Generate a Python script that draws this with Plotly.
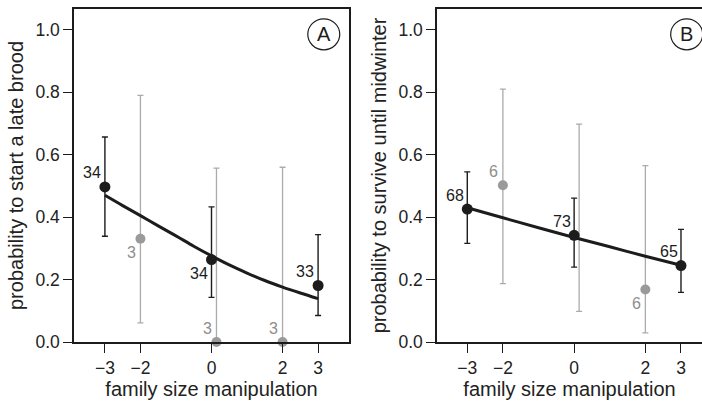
import plotly.graph_objects as go

# ---------------- data ----------------
x_ticks = [-3, -2, 0, 2, 3]
x_ticktext = ["\u22123", "\u22122", "0", "2", "3"]
y_ticks = [0, 0.2, 0.4, 0.6, 0.8, 1.0]

# Panel A: probability to start a late brood
a_black_x = [-3, 0, 3]
a_black_y = [0.497, 0.264, 0.181]
a_black_hi = [0.657, 0.433, 0.344]
a_black_lo = [0.339, 0.143, 0.085]
a_black_n = ["34", "34", "33"]

a_gray_x = [-2, 0, 2]
a_gray_y = [0.331, 0.0, 0.0]
a_gray_hi = [0.790, 0.557, 0.560]
a_gray_lo = [0.061, 0.0, 0.0]
a_gray_n = ["3", "3", "3"]

a_fit_x = [-3, -2.5, -2, -1.5, -1, -0.5, 0, 0.5, 1, 1.5, 2, 2.5, 3]
a_fit_y = [0.470, 0.437, 0.405, 0.372, 0.340, 0.307, 0.276, 0.247, 0.221, 0.197, 0.176, 0.157, 0.139]

# Panel B: probability to survive until midwinter
b_black_x = [-3, 0, 3]
b_black_y = [0.426, 0.342, 0.245]
b_black_hi = [0.545, 0.461, 0.361]
b_black_lo = [0.316, 0.240, 0.159]
b_black_n = ["68", "73", "65"]

b_gray_x = [-2, 0, 2]
b_gray_y = [0.502, None, 0.168]
b_gray_hi = [0.810, 0.698, 0.565]
b_gray_lo = [0.187, 0.098, 0.029]
b_gray_mid = [0.502, 0.360, 0.168]
b_gray_n = ["6", "", "6"]

b_fit_x = [-3, -2, -1, 0, 1, 2, 3]
b_fit_y = [0.430, 0.398, 0.366, 0.335, 0.305, 0.275, 0.246]

# ---------------- style ----------------
FONT = "Liberation Sans, Arial, Helvetica, sans-serif"
BLACK = "#1c1c1c"
GRAY_PT = "#9a9a9a"
GRAY_BAR = "#ababab"
GRAY_TXT = "#8e8e8e"
DODGE = 0.14  # horizontal offset of gray group at x = 0

def dodge(xs):
    return [x + DODGE if x == 0 else x for x in xs]

fig = go.Figure()

def add_panel(xa, ya, bx, by, bhi, blo, gx, gy, ghi, glo, gmid, fx, fy):
    gxd = dodge(gx)
    fig.add_trace(go.Scatter(
        x=gxd, y=gmid, mode="markers", marker=dict(size=0.1, color="rgba(0,0,0,0)"),
        error_y=dict(type="data", symmetric=False,
                     array=[h - m for h, m in zip(ghi, gmid)],
                     arrayminus=[m - l for m, l in zip(gmid, glo)],
                     color=GRAY_BAR, thickness=1.3, width=3),
        xaxis=xa, yaxis=ya, showlegend=False, hoverinfo="skip", cliponaxis=False))
    fig.add_trace(go.Scatter(
        x=gxd, y=gy, mode="markers", marker=dict(size=10, color=GRAY_PT),
        xaxis=xa, yaxis=ya, showlegend=False, cliponaxis=False))
    fig.add_trace(go.Scatter(
        x=bx, y=by, mode="markers", marker=dict(size=0.1, color="rgba(0,0,0,0)"),
        error_y=dict(type="data", symmetric=False,
                     array=[h - m for h, m in zip(bhi, by)],
                     arrayminus=[m - l for m, l in zip(by, blo)],
                     color=BLACK, thickness=1.4, width=3),
        xaxis=xa, yaxis=ya, showlegend=False, hoverinfo="skip", cliponaxis=False))
    fig.add_trace(go.Scatter(
        x=fx, y=fy, mode="lines", line=dict(color=BLACK, width=3, shape="spline"),
        xaxis=xa, yaxis=ya, showlegend=False))
    fig.add_trace(go.Scatter(
        x=bx, y=by, mode="markers", marker=dict(size=11, color=BLACK),
        xaxis=xa, yaxis=ya, showlegend=False, cliponaxis=False))

add_panel("x", "y", a_black_x, a_black_y, a_black_hi, a_black_lo,
          a_gray_x, a_gray_y, a_gray_hi, a_gray_lo, a_gray_y, a_fit_x, a_fit_y)
add_panel("x2", "y2", b_black_x, b_black_y, b_black_hi, b_black_lo,
          b_gray_x, b_gray_y, b_gray_hi, b_gray_lo, b_gray_mid, b_fit_x, b_fit_y)

def label(xref, yref, x, y, txt, color, above, dx):
    if not txt or y is None:
        return
    fig.add_annotation(x=x, y=y, xref=xref, yref=yref, text=txt, showarrow=False,
                       xshift=dx, yshift=14 if above else -14,
                       font=dict(family=FONT, size=16, color=color))

for x, y, t, up in zip(a_black_x, a_black_y, a_black_n, [True, False, True]):
    label("x", "y", x, y, t, BLACK, up, -13)
for x, y, t, up in zip(dodge(a_gray_x), a_gray_y, a_gray_n, [False, True, True]):
    label("x", "y", x, y, t, GRAY_TXT, up, -9)
for x, y, t, up in zip(b_black_x, b_black_y, b_black_n, [True, True, True]):
    label("x2", "y2", x, y, t, BLACK, up, -12)
for x, y, t, up in zip(dodge(b_gray_x), b_gray_y, b_gray_n, [True, True, False]):
    label("x2", "y2", x, y, t, GRAY_TXT, up, -9)

for xr, yr, letter in [("x", "y", "A"), ("x2", "y2", "B")]:
    fig.add_shape(type="circle", xref=xr, yref=yr, xsizemode="pixel", ysizemode="pixel",
                  xanchor=3.16, yanchor=0.986, x0=-16, x1=16, y0=-15.5, y1=15.5,
                  line=dict(color=BLACK, width=1.2))
    fig.add_annotation(x=3.16, y=0.986, xref=xr, yref=yr, text=letter, showarrow=False,
                       font=dict(family=FONT, size=20, color=BLACK))

axis_common = dict(
    showgrid=False, zeroline=False, showline=True, linecolor=BLACK, linewidth=1.5,
    ticks="outside", ticklen=9, tickwidth=1.3, tickcolor=BLACK,
    tickfont=dict(family=FONT, size=17.5, color="#222222"),
)
title_font = dict(family=FONT, size=20, color="#222222")

fig.update_layout(
    width=702, height=401,
    margin=dict(l=0, r=0, t=9, b=58.5, autoexpand=False),
    paper_bgcolor="white", plot_bgcolor="white",
    xaxis=dict(domain=[74 / 702, 349 / 702], range=[-3.87, 3.87], tickvals=x_ticks,
               ticktext=x_ticktext, mirror=True,
               title=dict(text="family size manipulation", standoff=0, font=title_font),
               **axis_common),
    yaxis=dict(range=[0, 1.067], tickvals=y_ticks, tickformat=".1f", mirror=True,
               title=dict(text="probability to start a late brood", standoff=6, font=title_font),
               **axis_common),
    xaxis2=dict(domain=[437 / 702, 1.0], range=[-3.85, 3.59], tickvals=x_ticks,
                ticktext=x_ticktext, mirror=True, anchor="y2",
                title=dict(text="family size manipulation", standoff=0, font=title_font),
                **axis_common),
    yaxis2=dict(range=[0, 1.067], tickvals=y_ticks, tickformat=".1f", anchor="x2",
                title=dict(text="probability to survive until midwinter", standoff=6,
                           font=title_font),
                **axis_common),
)

fig.write_html("out.html", config={"displayModeBar": False},
               post_script="document.body.style.margin='0';document.body.style.overflow='hidden';")
